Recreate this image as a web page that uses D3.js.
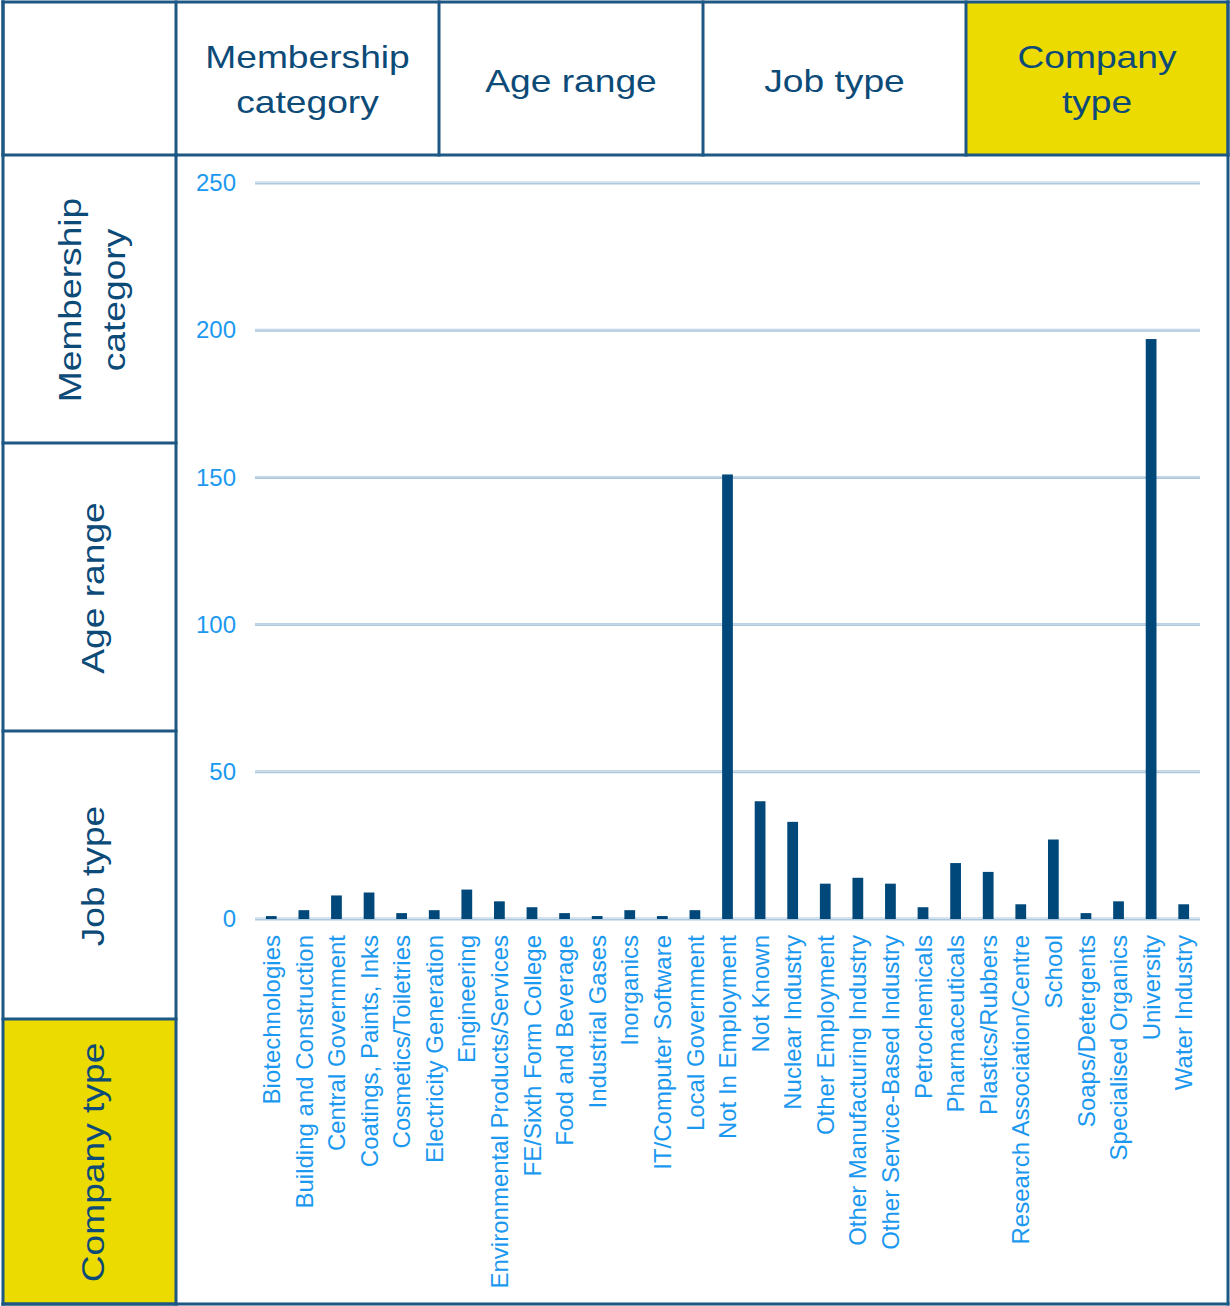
<!DOCTYPE html>
<html>
<head>
<meta charset="utf-8">
<script src="https://cdn.jsdelivr.net/npm/d3@7"></script>
<style>
  html, body { margin: 0; padding: 0; background: #fff; }
  svg { display: block; font-family: "Liberation Sans", Arial, sans-serif; }
</style>
</head>
<body>
<svg id="chart" width="1230" height="1306"></svg>
<script>
const categories = [
  "Biotechnologies", "Building and Construction", "Central Government",
  "Coatings, Paints, Inks", "Cosmetics/Toiletries", "Electricity Generation",
  "Engineering", "Environmental Products/Services", "FE/Sixth Form College",
  "Food and Beverage", "Industrial Gases", "Inorganics", "IT/Computer Software",
  "Local Government", "Not In Employment", "Not Known", "Nuclear Industry",
  "Other Employment", "Other Manufacturing Industry", "Other Service-Based Industry",
  "Petrochemicals", "Pharmaceuticals", "Plastics/Rubbers",
  "Research Association/Centre", "School", "Soaps/Detergents",
  "Specialised Organics", "University", "Water Industry"
];
const values = [
  1, 3, 8, 9, 2, 3, 10, 6, 4, 2, 1, 3, 1, 3, 151,
  40, 33, 12, 14, 12, 4, 19, 16, 5, 27, 2, 6, 197, 5
];
const yTicks = [0, 50, 100, 150, 200, 250];
const headerLabels = [[""], ["Membership", "category"], ["Age range"], ["Job type"], ["Company", "type"]];
const sideLabels = [["Membership", "category"], ["Age range"], ["Job type"], ["Company type"]];
const activeHeader = 4;
const activeSide = 3;

(function () {
const svg = d3.select("#chart");
const BORDER = "#1d5784", TEXT_DARK = "#0c4a78", YELLOW = "#ecdb00";
const BAR = "#00487a", TICK = "#1b98ef", GRID = "#adc7dd";

// Table grid geometry
const colX = [3, 176, 439, 703, 966, 1228];
const rowY = [155, 443, 731, 1019, 1304];
const topY = 2;

// Header cells
headerLabels.forEach((lines, i) => {
  const x0 = colX[i], x1 = colX[i + 1];
  svg.append("rect").attr("x", x0).attr("y", topY).attr("width", x1 - x0).attr("height", rowY[0] - topY)
    .attr("fill", i === activeHeader ? YELLOW : "#fff");
  const cx = (x0 + x1) / 2;
  const baselines = lines.length === 2 ? [68, 113] : [92];
  lines.forEach((ln, j) => {
    svg.append("text")
      .attr("transform", `translate(${cx},${baselines[j]}) scale(1.18,1)`)
      .attr("text-anchor", "middle")
      .attr("font-size", 31.5)
      .attr("fill", TEXT_DARK)
      .text(ln);
  });
});

// Side cells
sideLabels.forEach((lines, i) => {
  const y0 = rowY[i], y1 = rowY[i + 1];
  svg.append("rect").attr("x", colX[0]).attr("y", y0).attr("width", colX[1] - colX[0]).attr("height", y1 - y0)
    .attr("fill", i === activeSide ? YELLOW : "#fff");
  const cy = (y0 + y1) / 2 + 1;
  const xs = lines.length === 2 ? [81, 125] : [104];
  lines.forEach((ln, j) => {
    svg.append("text")
      .attr("transform", `translate(${xs[j]},${cy}) rotate(-90) scale(1.18,1)`)
      .attr("text-anchor", "middle")
      .attr("font-size", 31.5)
      .attr("fill", TEXT_DARK)
      .text(ln);
  });
});

// Chart
const x = d3.scaleBand().domain(categories).range([255, 1200]).paddingInner(0.67).paddingOuter(0.335);
const y = d3.scaleLinear().domain([0, 250]).range([919, 183]);

const grid = svg.append("g");
grid.selectAll("line.outer").data(yTicks).join("line").attr("class", "outer")
  .attr("x1", 255).attr("x2", 1200)
  .attr("y1", d => y(d)).attr("y2", d => y(d))
  .attr("stroke", GRID).attr("stroke-width", 3);
grid.selectAll("line.inner").data(yTicks).join("line").attr("class", "inner")
  .attr("x1", 255).attr("x2", 1200)
  .attr("y1", d => y(d) - 0.5).attr("y2", d => y(d) - 0.5)
  .attr("stroke", "#d2e2ef").attr("stroke-width", 1);

// Y axis via d3.axisLeft
const yAxis = svg.append("g").attr("transform", "translate(236,0)")
  .call(d3.axisLeft(y).tickValues(yTicks).tickSize(0).tickPadding(0));
yAxis.select(".domain").remove();
yAxis.selectAll("text")
  .attr("font-size", 24).attr("fill", TICK)
  .attr("font-family", "Liberation Sans, Arial, sans-serif");

// Bars
svg.append("g").selectAll("rect").data(categories).join("rect")
  .attr("x", d => x(d))
  .attr("width", x.bandwidth())
  .attr("y", (d, i) => y(values[i]))
  .attr("height", (d, i) => y(0) - y(values[i]))
  .attr("fill", BAR);

// X axis labels
const xAxis = svg.append("g").attr("transform", "translate(0,935)")
  .call(d3.axisBottom(x).tickSize(0).tickPadding(0));
xAxis.select(".domain").remove();
xAxis.selectAll("text")
  .attr("font-size", 24).attr("fill", TICK)
  .attr("font-family", "Liberation Sans, Arial, sans-serif")
  .attr("text-anchor", "end")
  .attr("transform", "rotate(-90)")
  .attr("x", 0).attr("y", 0).attr("dy", "0.36em");

// Borders
const segs = [];
colX.forEach(cx => segs.push([cx, topY, cx, rowY[0]]));
rowY.forEach(ry => segs.push([colX[0], ry, colX[1], ry]));
segs.push([colX[0], topY, colX[5], topY]);
segs.push([colX[1], rowY[0], colX[5], rowY[0]]);
segs.push([colX[0], topY, colX[0], rowY[4]]);
segs.push([colX[1], rowY[0], colX[1], rowY[4]]);
segs.push([colX[5], topY, colX[5], rowY[4]]);
segs.push([colX[0], rowY[4], colX[5], rowY[4]]);
svg.append("g").selectAll("line").data(segs).join("line")
  .attr("x1", d => d[0]).attr("y1", d => d[1]).attr("x2", d => d[2]).attr("y2", d => d[3])
  .attr("stroke", BORDER).attr("stroke-width", 3).attr("stroke-linecap", "square");
})();
</script>
</body>
</html>
